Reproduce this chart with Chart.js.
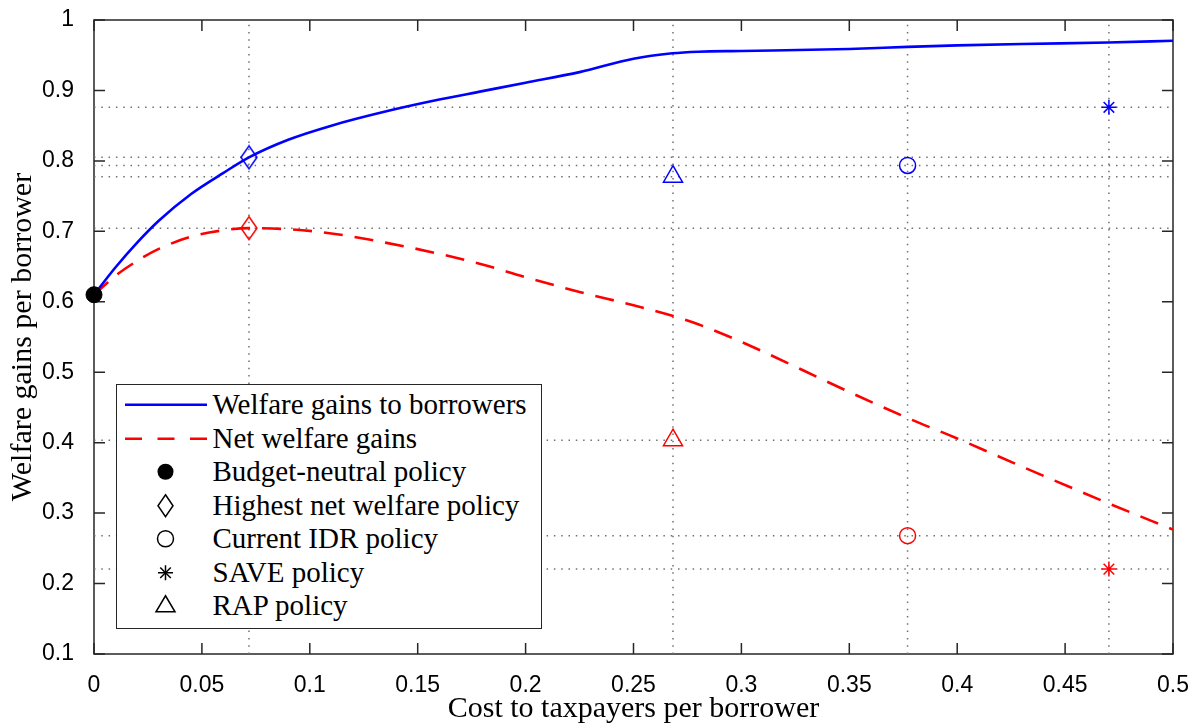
<!DOCTYPE html>
<html>
<head>
<meta charset="utf-8">
<script src="https://cdn.jsdelivr.net/npm/chart.js@4.4.1/dist/chart.umd.min.js"></script>
<style>
  html, body { margin: 0; padding: 0; background: #fff; overflow: hidden; }
  #wrap { position: relative; width: 1194px; height: 724px; }
  #legend {
    position: absolute; left: 116px; top: 384px; width: 426px; height: 245px;
    box-sizing: border-box; border: 1.5px solid #262626; background: #fff;
    padding-top: 3px; font-family: 'Liberation Serif', serif; font-size: 29px; color: #000;
  }
  .row { display: flex; align-items: center; height: 33.5px; }
  .row svg { width: 95.5px; height: 33.5px; flex: none; }
  .row span { white-space: nowrap; }
</style>
</head>
<body>
<div id="wrap">
  <canvas id="chart"></canvas>
  <div id="legend"></div>
</div>
<script>
// ── data ─────────────────────────────────────────────────
const costGrid    = [0, 0.01, 0.02, 0.03, 0.045, 0.06, 0.0718, 0.09, 0.11, 0.135, 0.16, 0.18, 0.2, 0.225, 0.25, 0.268, 0.28, 0.3, 0.35, 0.377, 0.4, 0.43, 0.47, 0.5];
const grossGains  = [0.61, 0.649, 0.684, 0.715, 0.753, 0.783, 0.805, 0.830, 0.850, 0.870, 0.887, 0.899, 0.911, 0.926, 0.945, 0.9527, 0.955, 0.956, 0.9588, 0.9618, 0.964, 0.966, 0.968, 0.9706];
const netGains    = [0.61, 0.637, 0.658, 0.675, 0.6925, 0.7015, 0.7045, 0.703, 0.697, 0.684, 0.668, 0.653, 0.635, 0.614, 0.595, 0.580, 0.568, 0.543, 0.472, 0.435, 0.406, 0.366, 0.314, 0.2766];

const policyNames = ["Highest net welfare policy", "Current IDR policy", "SAVE policy", "RAP policy"];
const policyCost  = [0.0718, 0.377, 0.4703, 0.2683];
const policyGross = [0.805, 0.7935, 0.876, 0.7775];
const policyNet   = [0.7045, 0.268, 0.2205, 0.4035];

const neutralCost = [0];
const neutralGain = [0.61];

const seriesNames = ["Welfare gains to borrowers", "Net welfare gains", "Budget-neutral policy"];
const xTickLabels = ["0", "0.05", "0.1", "0.15", "0.2", "0.25", "0.3", "0.35", "0.4", "0.45", "0.5"];
const yTickLabels = ["0.1", "0.2", "0.3", "0.4", "0.5", "0.6", "0.7", "0.8", "0.9", "1"];

const BLUE = "#0000ff", RED = "#ff0000", AXIS = "#262626", DOT = "#707070";
const X_MIN = 0, X_MAX = 0.5, Y_MIN = 0.1, Y_MAX = 1;

// matlab-style diamond (taller than wide)
function diamond(color) {
  const c = document.createElement("canvas");
  c.width = 20; c.height = 26;
  const g = c.getContext("2d");
  g.strokeStyle = color; g.lineWidth = 1.5;
  g.beginPath();
  g.moveTo(10, 1.5); g.lineTo(18, 13); g.lineTo(10, 24.5); g.lineTo(2, 13);
  g.closePath(); g.stroke();
  return c;
}
const markerStyle = color => [diamond(color), "circle", "star", "triangle"];
const markerRadius = [10, 8, 7.5, 11];

const pts = (xs, ys) => xs.map((x, i) => ({ x, y: ys[i] }));

// dotted reference lines through every policy marker
const refLines = [];
policyCost.forEach((c, i) => {
  refLines.push([{ x: c, y: Y_MIN }, { x: c, y: Y_MAX }]);
  refLines.push([{ x: X_MIN, y: policyGross[i] }, { x: X_MAX, y: policyGross[i] }]);
  refLines.push([{ x: X_MIN, y: policyNet[i] }, { x: X_MAX, y: policyNet[i] }]);
});

const datasets = [
  ...refLines.map(d => ({
    data: d, showLine: true, borderColor: DOT, borderWidth: 1.5,
    borderDash: [1.5, 5.8], pointRadius: 0, order: 10
  })),
  {
    label: seriesNames[0], data: pts(costGrid, grossGains), showLine: true,
    borderColor: BLUE, borderWidth: 2.6, pointRadius: 0,
    cubicInterpolationMode: "monotone", order: 3
  },
  {
    label: seriesNames[1], data: pts(costGrid, netGains), showLine: true,
    borderColor: RED, borderWidth: 2.6, borderDash: [19, 12], pointRadius: 0,
    cubicInterpolationMode: "monotone", order: 3
  },
  {
    label: "gross markers", data: pts(policyCost, policyGross), showLine: false,
    pointStyle: markerStyle(BLUE), pointRadius: markerRadius,
    borderColor: BLUE, pointBorderWidth: 1.5, backgroundColor: "transparent", order: 1
  },
  {
    label: "net markers", data: pts(policyCost, policyNet), showLine: false,
    pointStyle: markerStyle(RED), pointRadius: markerRadius,
    borderColor: RED, pointBorderWidth: 1.5, backgroundColor: "transparent", order: 1
  },
  {
    label: seriesNames[2], data: pts(neutralCost, neutralGain), showLine: false,
    pointStyle: "circle", pointRadius: 8, borderColor: "#000", backgroundColor: "#000",
    clip: false, order: 0
  }
];

// box with inward ticks on all four sides
const axisBox = {
  id: "axisBox",
  beforeDatasetsDraw(chart) {
    const { ctx, chartArea: a, scales: { x, y } } = chart;
    const len = 11;
    ctx.save();
    ctx.strokeStyle = AXIS;
    ctx.lineWidth = 1.5;
    ctx.strokeRect(a.left, a.top, a.right - a.left, a.bottom - a.top);
    ctx.beginPath();
    x.ticks.forEach(t => {
      const px = x.getPixelForValue(t.value);
      ctx.moveTo(px, a.bottom); ctx.lineTo(px, a.bottom - len);
      ctx.moveTo(px, a.top); ctx.lineTo(px, a.top + len);
    });
    y.ticks.forEach(t => {
      const py = y.getPixelForValue(t.value);
      ctx.moveTo(a.left, py); ctx.lineTo(a.left + len, py);
      ctx.moveTo(a.right, py); ctx.lineTo(a.right - len, py);
    });
    ctx.stroke();
    ctx.restore();
  }
};

const tickFont = { family: "'Liberation Sans', Arial, sans-serif", size: 23 };
const titleFont = { family: "'Liberation Serif', serif", size: 30, lineHeight: 1 };

new Chart(document.getElementById("chart"), {
  type: "scatter",
  data: { datasets },
  options: {
    responsive: true, maintainAspectRatio: false, animation: false, events: [],
    layout: { autoPadding: false, padding: { left: 0, top: 20, right: 21, bottom: 0 } },
    plugins: { legend: { display: false }, tooltip: { enabled: false } },
    scales: {
      x: {
        type: "linear", min: X_MIN, max: X_MAX,
        grid: { display: false }, border: { display: false },
        ticks: {
          stepSize: 0.05, autoSkip: false, maxRotation: 0, padding: 10,
          color: "#000", font: tickFont, callback: (v, i) => xTickLabels[i]
        },
        title: { display: true, text: "Cost to taxpayers per borrower", color: "#000", font: titleFont, padding: { top: 0, bottom: 0 } },
        afterFit: s => { s.height = 70; s.paddingLeft = 0; s.paddingRight = 0; }
      },
      y: {
        type: "linear", min: Y_MIN, max: Y_MAX,
        grid: { display: false }, border: { display: false },
        ticks: {
          stepSize: 0.1, autoSkip: false, padding: 12,
          color: "#000", font: tickFont, callback: (v, i) => yTickLabels[i]
        },
        title: { display: true, text: "Welfare gains per borrower", color: "#000", font: titleFont, padding: { top: 8, bottom: 0 } },
        afterFit: s => { s.width = 94; s.paddingTop = 0; s.paddingBottom = 0; }
      }
    }
  },
  plugins: [axisBox]
});

// ── HTML legend ──────────────────────────────────────────
const H = 33.5, CX = 48.5, CY = H / 2;
const sym = {
  solid: `<line x1="8" x2="90" y1="${CY}" y2="${CY}" stroke="${BLUE}" stroke-width="2.6"/>`,
  dashed: `<line x1="8" x2="90" y1="${CY}" y2="${CY}" stroke="${RED}" stroke-width="2.6" stroke-dasharray="17 15.5"/>`,
  dot: `<circle cx="${CX}" cy="${CY}" r="8" fill="#000"/>`,
  diamond: `<polygon points="${CX},${CY - 11} ${CX + 7.5},${CY} ${CX},${CY + 11} ${CX - 7.5},${CY}" fill="none" stroke="#000" stroke-width="1.5"/>`,
  circle: `<circle cx="${CX}" cy="${CY}" r="8" fill="none" stroke="#000" stroke-width="1.5"/>`,
  star: [0, 45, 90, 135].map(a => {
    const dx = 7.5 * Math.cos(a * Math.PI / 180), dy = 7.5 * Math.sin(a * Math.PI / 180);
    return `<line x1="${CX - dx}" y1="${CY - dy}" x2="${CX + dx}" y2="${CY + dy}" stroke="#000" stroke-width="1.5"/>`;
  }).join(""),
  triangle: `<polygon points="${CX},${CY - 10} ${CX + 9.5},${CY + 6} ${CX - 9.5},${CY + 6}" fill="none" stroke="#000" stroke-width="1.5"/>`
};
const legendRows = [
  [sym.solid, seriesNames[0]],
  [sym.dashed, seriesNames[1]],
  [sym.dot, seriesNames[2]],
  [sym.diamond, policyNames[0]],
  [sym.circle, policyNames[1]],
  [sym.star, policyNames[2]],
  [sym.triangle, policyNames[3]]
];
document.getElementById("legend").innerHTML = legendRows.map(([s, t]) =>
  `<div class="row"><svg viewBox="0 0 95.5 ${H}">${s}</svg><span>${t}</span></div>`
).join("");
</script>
</body>
</html>
